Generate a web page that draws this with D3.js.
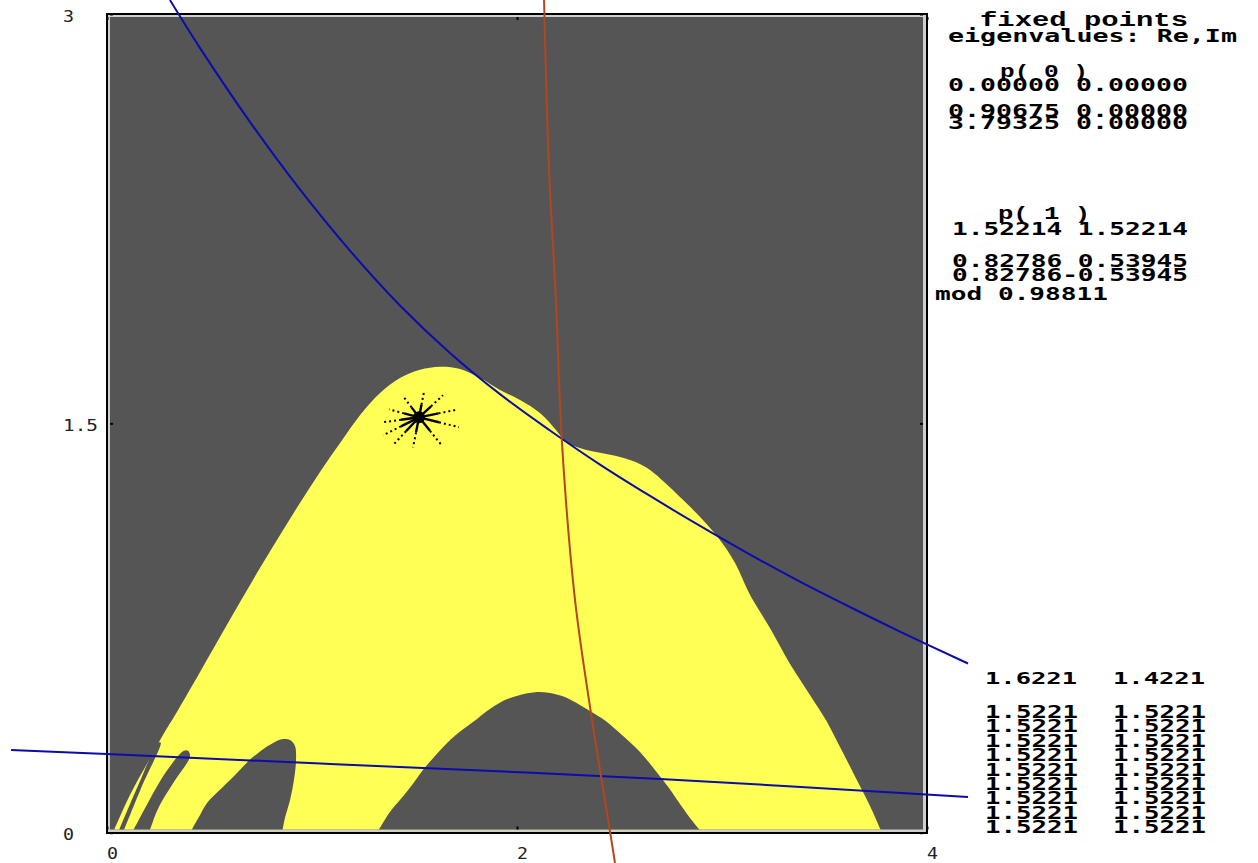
<!DOCTYPE html>
<html>
<head>
<meta charset="utf-8">
<script src="https://cdn.jsdelivr.net/npm/d3@7"></script>
<style>
  body { margin: 0; background: #ffffff; }
  svg { display: block; }
</style>
</head>
<body>
<svg id="chart" width="1258" height="863"></svg>
<script>
// ---- axis ticks ----
const xTicks = [0, 2, 4];
const yTicks = [0, 1.5, 3];

// ---- basin of the attracting focus p(1): outer boundary (x, y) ----
const basinOuter = [
  [0.029, 0], [0.112, 0.138], [0.200, 0.259], [0.273, 0.358], [0.341, 0.442],
  [0.454, 0.589], [0.551, 0.717], [0.649, 0.845], [0.746, 0.970], [0.844, 1.091],
  [0.941, 1.208], [1.039, 1.322], [1.137, 1.428], [1.234, 1.530], [1.332, 1.611],
  [1.429, 1.666], [1.527, 1.696], [1.624, 1.707], [1.722, 1.699],
  [1.820, 1.666], [1.917, 1.622], [2.015, 1.586], [2.112, 1.538], [2.190, 1.476],
  [2.239, 1.432], [2.307, 1.410], [2.405, 1.392], [2.502, 1.377], [2.576, 1.359],
  [2.649, 1.329], [2.722, 1.282], [2.795, 1.230], [2.893, 1.157], [2.990, 1.073],
  [3.063, 0.989], [3.137, 0.871], [3.234, 0.750], [3.332, 0.618], [3.429, 0.505],
  [3.507, 0.413], [3.585, 0.300], [3.663, 0.186], [3.722, 0.098], [3.780, 0]
];

// ---- holes of the basin (points escaping to infinity) ----
const holeCentral = [
  [1.317, 0], [1.380, 0.076], [1.429, 0.120], [1.488, 0.175], [1.541, 0.230],
  [1.600, 0.281], [1.659, 0.329], [1.732, 0.376], [1.805, 0.417], [1.868, 0.453],
  [1.941, 0.486], [2.015, 0.505], [2.088, 0.515], [2.161, 0.512], [2.234, 0.497],
  [2.307, 0.468], [2.380, 0.435], [2.439, 0.406], [2.512, 0.358], [2.600, 0.296],
  [2.673, 0.230], [2.737, 0.168], [2.795, 0.105], [2.844, 0.054], [2.902, 0]
];
const holeWide = [
  [0.405, 0], [0.454, 0.065], [0.488, 0.109], [0.551, 0.157], [0.615, 0.204],
  [0.712, 0.277], [0.810, 0.329], [0.859, 0.343], [0.893, 0.340], [0.917, 0.318],
  [0.922, 0.266], [0.912, 0.193], [0.893, 0.120], [0.868, 0.054], [0.854, 0]
];
const holeThin = [
  [0.122, 0], [0.200, 0.110], [0.290, 0.225], [0.375, 0.300], [0.395, 0.300],
  [0.405, 0.280], [0.330, 0.190], [0.250, 0.090], [0.205, 0]
];
const holeSliver = [
  [0.054, 0], [0.150, 0.170], [0.250, 0.330], [0.262, 0.330], [0.170, 0.170], [0.078, 0]
];

// ---- critical curves ----
const curveRed = [
  [2.132, 3.051], [2.156, 2.435], [2.190, 1.952], [2.220, 1.421], [2.283, 0.853],
  [2.366, 0.413], [2.405, 0.230], [2.454, 0.003], [2.478, -0.111]
];
const curveBlueUpper = [
  [0.307, 3.051], [0.454, 2.875], [0.698, 2.604], [0.941, 2.357], [1.185, 2.133],
  [1.429, 1.932], [1.673, 1.758], [1.917, 1.607], [2.161, 1.474], [2.405, 1.349],
  [2.649, 1.234], [2.893, 1.124], [3.137, 1.019], [3.380, 0.920], [3.624, 0.827],
  [3.868, 0.737], [4.200, 0.620]
];
const curveBlueLower = [
  [-0.468, 0.303], [0, 0.288], [1.088, 0.252], [2.698, 0.197], [4.200, 0.131]
];

// ---- fixed point p(1) and the trajectory arms converging onto it ----
const fixedPoint = [1.52214, 1.52214];
const trajectoryArms = [
  [1.449, 1.595], [1.546, 1.614], [1.639, 1.603], [1.712, 1.551], [1.717, 1.486],
  [1.629, 1.423], [1.493, 1.412], [1.395, 1.420], [1.346, 1.456], [1.346, 1.504],
  [1.376, 1.551]
];

// ---- side panel texts ----
const panelTitle = ["fixed points", "eigenvalues: Re,Im"];
const p0Label = "p( 0 )";
const p0Coords = "0.00000 0.00000";
const p0Eigen = ["0.90675 0.00000", "3.79325 0.00000"];
const p1Label = "p( 1 )";
const p1Coords = "1.52214 1.52214";
const p1Eigen = ["0.82786 0.53945", "0.82786-0.53945"];
const p1Mod = "mod 0.98811";
const orbitStart = ["1.6221", "1.4221"];
const orbitTail = [
  ["1.5221", "1.5221"], ["1.5221", "1.5221"], ["1.5221", "1.5221"],
  ["1.5221", "1.5221"], ["1.5221", "1.5221"], ["1.5221", "1.5221"],
  ["1.5221", "1.5221"], ["1.5221", "1.5221"], ["1.5221", "1.5221"]
];

// ================= drawing =================
const svg = d3.select("#chart");
const x = d3.scaleLinear().domain([0, 4]).range([107, 927]);
const y = d3.scaleLinear().domain([0, 3]).range([832.7, 14]);

const GRAY = "#555555", YELLOW = "#ffff55", BLUE = "#0c0caa", RED = "#b4461c";

// frame: outer black line, light inner line, dark field
svg.append("rect").attr("x", 106).attr("y", 13).attr("width", 822).attr("height", 821)
  .attr("fill", "#000");
svg.append("rect").attr("x", 108).attr("y", 15).attr("width", 818).attr("height", 817)
  .attr("fill", "#cfcfcf");
svg.append("rect").attr("x", 110).attr("y", 17).attr("width", 813).attr("height", 812.5)
  .attr("fill", GRAY);

svg.append("clipPath").attr("id", "field")
  .append("rect").attr("x", 110).attr("y", 17).attr("width", 813).attr("height", 812.5);

const field = svg.append("g").attr("clip-path", "url(#field)");
const edge = d3.line().x(d => x(d[0])).y(d => y(d[1])).curve(d3.curveCatmullRom);

// a region bounded by an edge curve and closed along the bottom of the field
function regionPath(pts) {
  const last = pts[pts.length - 1], first = pts[0];
  return edge(pts) + "L" + x(last[0]) + "," + (y(0) + 6) +
    "L" + x(first[0]) + "," + (y(0) + 6) + "Z";
}
field.append("path").attr("d", regionPath(basinOuter)).attr("fill", YELLOW);
[holeCentral, holeWide, holeThin, holeSliver].forEach(h => {
  field.append("path").attr("d", regionPath(h)).attr("fill", GRAY);
});

// ticks on the frame
const tickG = svg.append("g");
tickG.append("g").attr("transform", "translate(0,17)")
  .call(d3.axisBottom(x).tickValues(xTicks).tickSize(3).tickFormat(""))
  .call(g => g.select(".domain").remove());
tickG.append("g").attr("transform", "translate(0,829.5)")
  .call(d3.axisTop(x).tickValues(xTicks).tickSize(3).tickFormat(""))
  .call(g => g.select(".domain").remove());
tickG.append("g").attr("transform", "translate(110,0)")
  .call(d3.axisRight(y).tickValues(yTicks).tickSize(3).tickFormat(""))
  .call(g => g.select(".domain").remove());
tickG.append("g").attr("transform", "translate(923,0)")
  .call(d3.axisLeft(y).tickValues(yTicks).tickSize(3).tickFormat(""))
  .call(g => g.select(".domain").remove());
tickG.selectAll("line").attr("stroke", "#000").attr("stroke-width", 2);

// tick labels
const labelFont = "'DejaVu Sans Mono', monospace";
svg.append("g").selectAll("text").data(xTicks).join("text")
  .attr("x", d => x(d)).attr("y", 859)
  .attr("font-family", labelFont).attr("font-size", 15).attr("fill", "#222")
  .attr("textLength", 11).attr("lengthAdjust", "spacingAndGlyphs")
  .text(d => d3.format("")(d));
svg.append("g").selectAll("text").data(yTicks).join("text")
  .attr("x", 63).attr("y", d => y(d) + 7.5)
  .attr("font-family", labelFont).attr("font-size", 15).attr("fill", "#222")
  .attr("textLength", d => String(d).length * 12 - 1).attr("lengthAdjust", "spacingAndGlyphs")
  .text(d => String(d));

// critical curves (drawn across the whole canvas)
const curve = d3.line().x(d => x(d[0])).y(d => y(d[1])).curve(d3.curveCatmullRom);
svg.append("path").datum(curveBlueLower).attr("d", curve)
  .attr("fill", "none").attr("stroke", BLUE).attr("stroke-width", 2);
svg.append("path").datum(curveBlueUpper).attr("d", curve)
  .attr("fill", "none").attr("stroke", BLUE).attr("stroke-width", 2);
svg.append("path").datum(curveRed).attr("d", curve)
  .attr("fill", "none").attr("stroke", RED).attr("stroke-width", 2);

// trajectory arms spiralling onto p(1)
const star = svg.append("g");
const cx = x(fixedPoint[0]), cy = y(fixedPoint[1]);
trajectoryArms.forEach(p => {
  const ex = x(p[0]), ey = y(p[1]);
  const mx = cx + (ex - cx) * 0.5, my = cy + (ey - cy) * 0.5;
  star.append("line").attr("x1", cx).attr("y1", cy).attr("x2", mx).attr("y2", my)
    .attr("stroke", "#000").attr("stroke-width", 2.4);
  star.append("line").attr("x1", mx).attr("y1", my).attr("x2", ex).attr("y2", ey)
    .attr("stroke", "#000").attr("stroke-width", 2).attr("stroke-dasharray", "2,3");
});
star.append("circle").attr("cx", cx).attr("cy", cy).attr("r", 6).attr("fill", "#000");

// side panel
const mono = "'DejaVu Sans Mono', monospace";
const serifMono = "'Liberation Mono', monospace";
const panel = svg.append("g").attr("fill", "#000").attr("font-weight", "bold");
function put(t, px, py, w, size, family) {
  panel.append("text").attr("x", px).attr("y", py)
    .attr("font-family", family || mono).attr("font-size", size || 18)
    .attr("textLength", w).attr("lengthAdjust", "spacingAndGlyphs")
    .text(t);
}
put(panelTitle[0], 980, 26, 208, 20, serifMono);
put(panelTitle[1], 948, 42, 289, 18);
put(p0Label, 1000, 77, 88, 18, serifMono);
put(p0Coords, 948, 91, 240);
p0Eigen.forEach((t, i) => put(t, 948, 117 + i * 11.5, 240));
put(p1Label, 998, 219, 92, 18, serifMono);
put(p1Coords, 952, 235, 236);
p1Eigen.forEach((t, i) => put(t, 952, 267 + i * 14, 236));
put(p1Mod, 935, 300, 173);
put(orbitStart[0], 985, 684, 92, 16);
put(orbitStart[1], 1113, 684, 92, 16);
orbitTail.forEach((r, i) => {
  put(r[0], 985, 718 + i * 14.4, 93);
  put(r[1], 1113, 718 + i * 14.4, 93);
});
</script>
</body>
</html>
